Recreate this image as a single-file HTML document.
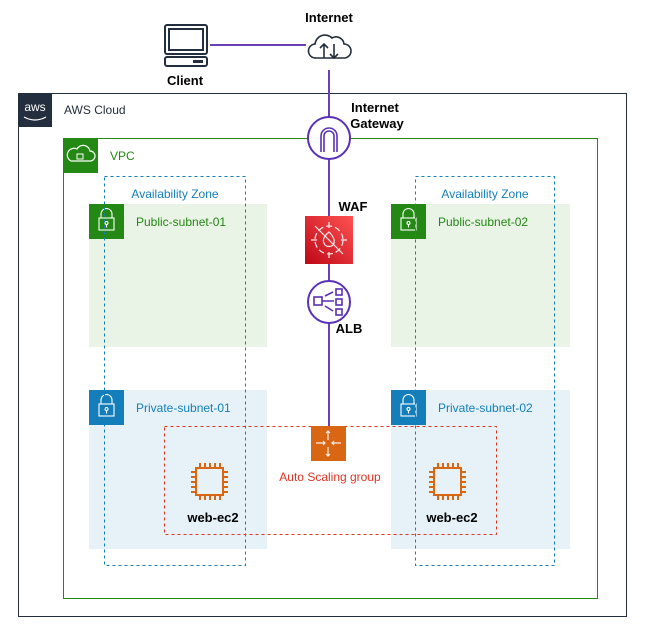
<!DOCTYPE html>
<html><head><meta charset="utf-8"><style>
html,body{margin:0;padding:0;background:#fff}
svg{display:block;font-family:"Liberation Sans",Arial,sans-serif}
</style></head><body>
<svg width="645" height="635" viewBox="0 0 645 635" xmlns="http://www.w3.org/2000/svg">
<!-- AWS Cloud -->
<rect x="18.5" y="93.5" width="608" height="523" fill="none" stroke="#232f3e" stroke-width="1"/>
<rect x="18" y="93" width="34" height="34" fill="#232f3e"/>
<text x="35" y="111" fill="#fff" font-size="12" text-anchor="middle">aws</text>
<path d="M24 117 Q35 123 46 117" stroke="#fff" fill="none" stroke-width="1.2"/>
<text x="64" y="114" font-size="12" fill="#232f3e">AWS Cloud</text>
<!-- VPC -->
<rect x="63.5" y="138.5" width="534" height="460" fill="none" stroke="#248814"/>
<rect x="63" y="138" width="35" height="35" fill="#248814"/>
<path d="M71 161 h19 a5 5 0 0 0 0-10 a7 7 0 0 0-13-2 a5 5 0 0 0-6 12z" fill="none" stroke="#fff" stroke-width="1.2"/>
<rect x="77" y="154" width="6" height="5" fill="none" stroke="#fff"/>
<text x="110" y="160" font-size="12" fill="#248814">VPC</text>
<!-- Public subnets -->
<rect x="89" y="204" width="178" height="143" fill="#e9f3e6"/>
<rect x="391" y="204" width="179" height="143" fill="#e9f3e6"/>
<!-- Private subnets -->
<rect x="89" y="390" width="178" height="159" fill="#e6f2f8"/>
<rect x="391" y="390" width="179" height="159" fill="#e6f2f8"/>
<g id="lk">
</g>
<rect x="89" y="204" width="35" height="35" fill="#248814"/>
<rect x="391" y="204" width="35" height="35" fill="#248814"/>
<rect x="89" y="390" width="35" height="35" fill="#147eba"/>
<rect x="391" y="390" width="35" height="35" fill="#147eba"/>
<g fill="none" stroke="#fff" stroke-width="1.1">
<path d="M101 218 v-4 a5 5 0 0 1 11 0 v4"/><rect x="99" y="218" width="15" height="12"/><circle cx="106.5" cy="223" r="1.5"/><path d="M106.5 224.5v3"/>
<path d="M403 218 v-4 a5 5 0 0 1 11 0 v4"/><rect x="401" y="218" width="15" height="12"/><circle cx="408.5" cy="223" r="1.5"/><path d="M408.5 224.5v3"/>
<path d="M101 404 v-4 a5 5 0 0 1 11 0 v4"/><rect x="99" y="404" width="15" height="12"/><circle cx="106.5" cy="409" r="1.5"/><path d="M106.5 410.5v3"/>
<path d="M403 404 v-4 a5 5 0 0 1 11 0 v4"/><rect x="401" y="404" width="15" height="12"/><circle cx="408.5" cy="409" r="1.5"/><path d="M408.5 410.5v3"/>
</g>
<text x="136" y="226" font-size="12" fill="#248814">Public-subnet-01</text>
<text x="438" y="226" font-size="12" fill="#248814">Public-subnet-02</text>
<text x="136" y="412" font-size="12" fill="#147eba">Private-subnet-01</text>
<text x="438" y="412" font-size="12" fill="#147eba">Private-subnet-02</text>
<!-- AZ -->
<rect x="104.5" y="176.5" width="141" height="389" fill="none" stroke="#147eba" stroke-dasharray="3,3"/>
<rect x="415.5" y="176.5" width="139" height="389" fill="none" stroke="#147eba" stroke-dasharray="3,3"/>
<text x="175" y="198" font-size="12" fill="#147eba" text-anchor="middle">Availability Zone</text>
<text x="485" y="198" font-size="12" fill="#147eba" text-anchor="middle">Availability Zone</text>
<!-- ASG -->
<rect x="164.5" y="426.5" width="332" height="108" fill="none" stroke="#dd3522" stroke-dasharray="3,3"/>
<!-- Lines -->
<line x1="210" y1="45" x2="306" y2="45" stroke="#6a3fb8" stroke-width="2"/>
<line x1="329" y1="70" x2="329" y2="426" stroke="#6a3fb8" stroke-width="2"/>
<!-- Client -->
<g fill="none" stroke="#232f3e" stroke-width="2">
<rect x="165" y="25" width="42" height="29" rx="2"/>
<rect x="169" y="29" width="34" height="21"/>
<rect x="165" y="57" width="42" height="9" rx="2"/>
</g>
<rect x="193" y="60" width="10" height="3" fill="#232f3e"/>
<text x="185" y="85" font-size="13" font-weight="bold" fill="#000" text-anchor="middle">Client</text>
<!-- Internet -->
<rect x="306" y="30" width="46" height="32" fill="#fff"/>
<path d="M316 58 h28 a7 7 0 0 0 0-14 a8 8 0 0 0-12-6 a10 10 0 0 0-17 6 a7 7 0 0 0 1 14z" fill="#fff" stroke="#232f3e" stroke-width="1.6"/>
<path d="M324 58 v-14 M320 48 l4-4 l4 4 M334 44 v14 M330 54 l4 4 l4-4" stroke="#232f3e" stroke-width="1.6" fill="none"/>
<text x="329" y="22" font-size="13" font-weight="bold" fill="#000" text-anchor="middle">Internet</text>
<!-- IGW -->
<circle cx="329" cy="138" r="21" fill="#fff" stroke="#5a30b5" stroke-width="2"/>
<path d="M321 152 v-16 a8 8 0 0 1 16 0 v16 M324 152 v-16 a5 5 0 0 1 10 0 v16" fill="none" stroke="#5a30b5" stroke-width="1.6"/>
<text x="375" y="112" font-size="13" font-weight="bold" fill="#000" text-anchor="middle">Internet</text>
<text x="377" y="128" font-size="13" font-weight="bold" fill="#000" text-anchor="middle">Gateway</text>
<!-- WAF -->
<defs><linearGradient id="wg" x1="0" y1="1" x2="1" y2="0"><stop offset="0" stop-color="#bd0816"/><stop offset="1" stop-color="#ff5252"/></linearGradient></defs>
<rect x="305" y="216" width="48" height="48" fill="url(#wg)"/>
<g fill="none" stroke="#fff" stroke-width="1.2" opacity="0.9">
<circle cx="329" cy="240" r="14" stroke-dasharray="6,3"/>
<path d="M315 226 l28 28 M329 222 v6 M329 252 v6 M311 240 h6 M341 240 h6"/>
<path d="M329 232 c-6 5-7 9-4 13 c2 2 6 2 8 0 c3-4 0-9-4-13z"/>
</g>
<text x="353" y="211" font-size="13" font-weight="bold" fill="#000" text-anchor="middle">WAF</text>
<!-- ALB -->
<circle cx="329" cy="302" r="21" fill="#fff" stroke="#5a30b5" stroke-width="2"/>
<g fill="none" stroke="#5a30b5" stroke-width="1.6">
<rect x="314" y="297" width="8" height="8"/>
<rect x="336" y="289" width="6" height="6"/><rect x="336" y="299" width="6" height="6"/><rect x="336" y="309" width="6" height="6"/>
<path d="M322 301 h12 M325 296 l8 -4 M325 306 l8 5"/>
</g>
<text x="349" y="333" font-size="13" font-weight="bold" fill="#000" text-anchor="middle">ALB</text>
<!-- ASG icon -->
<rect x="311" y="426" width="35" height="35" fill="#d86613"/>
<g stroke="#fff" stroke-width="1.2" fill="none" opacity="0.9">
<path d="M328 431 v9 M326 433 l2-2 l2 2 M328 447 v9 M326 454 l2 2 l2-2 M316 443 h9 M323 441 l2 2 l-2 2 M341 443 h-9 M334 441 l-2 2 l2 2"/>
</g>
<text x="330" y="481" font-size="12" fill="#dd3522" text-anchor="middle">Auto Scaling group</text>
<!-- EC2 -->
<g fill="none" stroke="#d86613" stroke-width="2">
<rect x="196" y="468" width="27" height="27"/>
<path d="M200 463v5M205 463v5M210 463v5M215 463v5M220 463v5 M200 495v5M205 495v5M210 495v5M215 495v5M220 495v5 M191 472h5M191 477h5M191 482h5M191 487h5M191 492h5 M223 472h5M223 477h5M223 482h5M223 487h5M223 492h5"/>
<rect x="434" y="468" width="27" height="27"/>
<path d="M438 463v5M443 463v5M448 463v5M453 463v5M458 463v5 M438 495v5M443 495v5M448 495v5M453 495v5M458 495v5 M429 472h5M429 477h5M429 482h5M429 487h5M429 492h5 M461 472h5M461 477h5M461 482h5M461 487h5M461 492h5"/>
</g>
<text x="213" y="522" font-size="13" font-weight="bold" fill="#000" text-anchor="middle">web-ec2</text>
<text x="452" y="522" font-size="13" font-weight="bold" fill="#000" text-anchor="middle">web-ec2</text>
</svg>
</body></html>
